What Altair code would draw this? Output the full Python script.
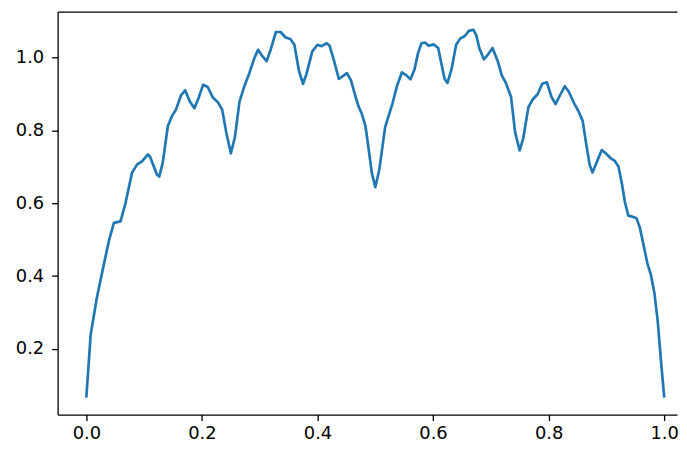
import altair as alt
import pandas as pd

xs = [0.000, 0.0074, 0.0177, 0.0275, 0.039, 0.0476, 0.059, 0.0675, 0.079, 0.0876,
      0.0962, 0.1065, 0.110, 0.122, 0.126, 0.132, 0.141, 0.148, 0.155, 0.164,
      0.171, 0.179, 0.187, 0.194, 0.202, 0.210, 0.219, 0.228, 0.235, 0.242,
      0.250, 0.257, 0.265, 0.274, 0.282, 0.290, 0.297, 0.305, 0.312, 0.318,
      0.328, 0.336, 0.345, 0.353, 0.360, 0.368, 0.375, 0.381, 0.391, 0.400,
      0.407, 0.416, 0.421, 0.428, 0.437, 0.445, 0.451, 0.458, 0.465, 0.471,
      0.477, 0.483, 0.488, 0.494, 0.500,
      0.507, 0.517, 0.523, 0.530, 0.538, 0.546, 0.554, 0.561, 0.568, 0.574,
      0.580, 0.586, 0.593, 0.601, 0.609, 0.614, 0.620, 0.625, 0.632, 0.640,
      0.647, 0.655, 0.662, 0.670, 0.675, 0.680, 0.688, 0.695, 0.703, 0.712,
      0.719, 0.726, 0.735, 0.742, 0.750, 0.756, 0.765, 0.772, 0.781, 0.789,
      0.797, 0.805, 0.812, 0.820, 0.828, 0.835, 0.844, 0.852, 0.859, 0.865,
      0.871, 0.876, 0.884, 0.892, 0.899, 0.907, 0.914, 0.921, 0.927, 0.932,
      0.938, 0.947, 0.952, 0.958, 0.964, 0.971, 0.977, 0.983, 0.989, 0.994,
      1.000]

ys = [0.070, 0.239, 0.337, 0.412, 0.497, 0.546, 0.550, 0.599, 0.684, 0.706,
      0.715, 0.734, 0.728, 0.679, 0.673, 0.710, 0.812, 0.839, 0.857, 0.897,
      0.910, 0.879, 0.861, 0.888, 0.925, 0.919, 0.890, 0.876, 0.857, 0.795,
      0.737, 0.781, 0.879, 0.924, 0.957, 0.995, 1.021, 1.003, 0.990, 1.017,
      1.070, 1.070, 1.055, 1.051, 1.035, 0.963, 0.928, 0.955, 1.017, 1.035,
      1.031, 1.039, 1.032, 0.995, 0.941, 0.950, 0.957, 0.937, 0.897, 0.866,
      0.844, 0.812, 0.755, 0.684, 0.644,
      0.692, 0.808, 0.839, 0.875, 0.924, 0.959, 0.951, 0.940, 0.968, 1.012,
      1.039, 1.041, 1.032, 1.036, 1.026, 0.986, 0.941, 0.930, 0.968, 1.035,
      1.052, 1.059, 1.073, 1.076, 1.061, 1.026, 0.995, 1.008, 1.026, 0.990,
      0.951, 0.930, 0.892, 0.795, 0.745, 0.777, 0.863, 0.884, 0.899, 0.928,
      0.932, 0.892, 0.872, 0.897, 0.921, 0.906, 0.875, 0.852, 0.826, 0.764,
      0.706, 0.684, 0.715, 0.746, 0.737, 0.724, 0.717, 0.701, 0.653, 0.604,
      0.566, 0.562, 0.559, 0.533, 0.488, 0.435, 0.404, 0.355, 0.275, 0.177,
      0.070]

x_ticks = [0.0, 0.2, 0.4, 0.6, 0.8, 1.0]
y_ticks = [0.2, 0.4, 0.6, 0.8, 1.0]

df = pd.DataFrame({"x": xs, "y": ys})

FONT = "DejaVu Sans"
x_scale = alt.Scale(domain=[-0.0498, 1.0223], nice=False, zero=False)
y_scale = alt.Scale(domain=[0.0197, 1.126], nice=False, zero=False)

line = alt.Chart(df).mark_line(
    color="#1f77b4", strokeWidth=2.7, strokeJoin="round", strokeCap="square", clip=True
).encode(
    x=alt.X("x:Q", scale=x_scale, title=None,
            axis=alt.Axis(orient="bottom", values=x_ticks, format=".1f", grid=False,
                          tickSize=6, labelPadding=4, minExtent=28, maxExtent=28)),
    y=alt.Y("y:Q", scale=y_scale, title=None,
            axis=alt.Axis(orient="left", values=y_ticks, format=".1f", grid=False,
                          tickSize=6, labelPadding=8, minExtent=40, maxExtent=40)),
)

top = alt.Chart(df).mark_line(opacity=0).encode(
    x=alt.X("x:Q", scale=x_scale, title=None,
            axis=alt.Axis(orient="top", labels=False, ticks=False, grid=False,
                          domain=True, minExtent=0, maxExtent=0)),
    y=alt.Y("y:Q", scale=y_scale),
)

chart = alt.layer(line, top).resolve_axis(x="independent").properties(
    width=624, height=406,
    padding={"left": 7, "top": 2, "right": 0, "bottom": 0},
).configure_view(stroke=None).configure_axis(
    labelFont=FONT, labelFontSize=18, labelColor="black",
    domainColor="black", domainWidth=1.33, tickColor="black", tickWidth=1.33,
)

chart.save("out.html", embed_options={"renderer": "svg", "actions": False})
